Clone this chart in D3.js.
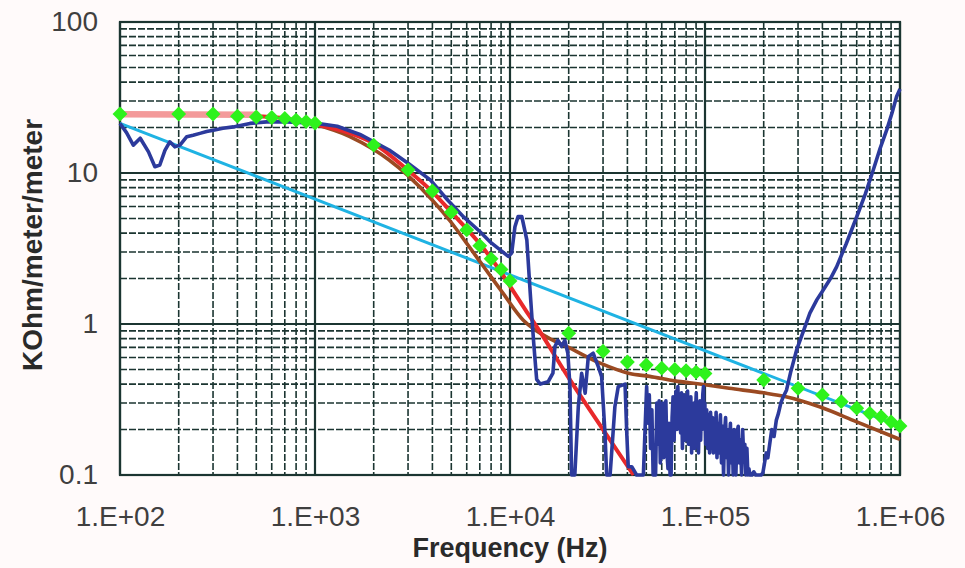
<!DOCTYPE html>
<html>
<head>
<meta charset="utf-8">
<script src="https://cdn.jsdelivr.net/npm/d3@7"></script>
<style>
  html, body { margin: 0; padding: 0; background: #fffafa; }
  svg { display: block; }
  text { font-family: "Liberation Sans", Arial, sans-serif; }
</style>
</head>
<body>
<svg id="chart" width="965" height="568"></svg>
<script>
// ---------------- DATA ----------------
const xTickValues = [1e2, 1e3, 1e4, 1e5, 1e6];
const xTickLabels = ["1.E+02", "1.E+03", "1.E+04", "1.E+05", "1.E+06"];
const yTickValues = [0.1, 1, 10, 100];
const yTickLabels = ["0.1", "1", "10", "100"];

// cyan reference line [Hz, kOhm/m/m]
const cyanLine = [[100, 21.3], [1000000, 0.21]];

// pink low-frequency segment
const pinkLine = [[100, 24.5], [500, 24.3]];

// red model curve
const redLine = [
  [100, 24.5], [200, 24.5], [300, 24.4], [400, 24.2], [500, 23.8], [700, 23.0],
  [1000, 21.0], [1500, 18.4], [2000, 15.7], [3000, 10.4], [4000, 7.5], [5000, 5.5],
  [7000, 3.4], [9000, 2.2], [10000, 1.78], [12000, 1.24], [14000, 0.92],
  [20000, 0.44], [30000, 0.2], [43000, 0.1]
];

// brown model curve
const brownLine = [
  [1000, 21.0], [1500, 17.5], [2000, 14.3], [2400, 12.2], [3000, 9.6], [4000, 6.6],
  [5000, 4.7], [6000, 3.42], [7000, 2.6], [8000, 2.05], [9200, 1.6], [11700, 1.06],
  [13200, 0.93], [16000, 0.8], [19500, 0.71], [29000, 0.55], [41000, 0.47],
  [52000, 0.45], [70000, 0.42], [94000, 0.4], [133000, 0.375], [200000, 0.35],
  [260000, 0.33], [390000, 0.282], [600000, 0.225], [1000000, 0.172]
];

// green diamond points
const greenPoints = [
  [100, 24.6], [200, 24.6], [300, 24.6], [400, 23.8], [500, 23.5], [600, 23.3],
  [700, 23.0], [800, 22.4], [900, 21.9], [1000, 21.4], [2000, 15.3], [3000, 10.5],
  [4000, 7.6], [5000, 5.5], [6000, 4.2], [7000, 3.3], [8000, 2.7], [9000, 2.3],
  [10000, 1.93], [20000, 0.87], [30000, 0.66], [40000, 0.56], [50000, 0.535],
  [60000, 0.51], [70000, 0.5], [80000, 0.49], [90000, 0.48], [100000, 0.47],
  [200000, 0.426], [300000, 0.375], [400000, 0.339], [500000, 0.306], [600000, 0.277],
  [700000, 0.256], [800000, 0.243], [900000, 0.225], [1000000, 0.211]
];

// blue measured curve
const blueLine = [
  [100, 21.3], [108, 18.5], [117, 15.3], [127, 17.0], [140, 13.8], [151, 11.0], [160, 11.3],
  [170, 14.1], [180, 16.1], [191, 14.9], [203, 15.3], [220, 17.4], [237, 17.8], [257, 18.3],
  [278, 18.8], [301, 19.2], [337, 19.8], [381, 20.2], [464, 21.3], [565, 21.8], [716, 21.8],
  [1000, 21.4], [1300, 20.4], [1700, 18.0], [2400, 14.2], [3000, 11.6], [3900, 9.0],
  [4800, 6.6], [5800, 5.1], [7000, 4.1], [7900, 3.5], [8900, 3.1], [9800, 2.8],
  [10200, 2.95], [10600, 4.4], [11000, 5.14], [11500, 5.14], [12200, 3.6], [12700, 1.6],
  [13200, 0.78], [13400, 0.61], [13700, 0.43], [14300, 0.40], [15700, 0.415], [16600, 0.473],
  [17000, 0.71], [17600, 0.78], [18400, 0.71], [19100, 0.78], [19800, 0.64], [20300, 0.385],
  [20700, 0.1], [21500, 0.1], [22400, 0.283], [23300, 0.471], [24300, 0.348], [25200, 0.607],
  [26700, 0.64], [28400, 0.52], [29500, 0.448], [30700, 0.189], [31300, 0.1], [32600, 0.1],
  [34500, 0.283], [35900, 0.385], [38900, 0.40], [39700, 0.189], [40400, 0.1135],
  [42100, 0.1135], [44600, 0.1], [48300, 0.1],
  [50200, 0.385], [51000, 0.22], [51800, 0.34], [52600, 0.15], [53400, 0.27], [54200, 0.1],
  [55000, 0.12], [55800, 0.1], [56600, 0.3], [57400, 0.16], [58200, 0.31], [59000, 0.12],
  [59800, 0.24], [60600, 0.3], [61400, 0.13], [62200, 0.26], [63000, 0.31], [63800, 0.14],
  [64600, 0.11], [65400, 0.22], [66200, 0.1], [67000, 0.1], [67800, 0.24], [68600, 0.33],
  [69400, 0.17], [70200, 0.28], [71000, 0.36], [71800, 0.2], [72600, 0.385], [73400, 0.22],
  [74200, 0.3], [75000, 0.19], [75800, 0.35], [76600, 0.15], [77400, 0.29], [78200, 0.34],
  [79000, 0.17], [79800, 0.31], [80600, 0.22], [81400, 0.36], [82200, 0.16], [83000, 0.27],
  [83800, 0.2], [84600, 0.33], [85400, 0.14], [86200, 0.28], [87000, 0.19], [87800, 0.3],
  [88600, 0.15], [89400, 0.26], [90200, 0.35], [91000, 0.18], [91800, 0.29], [92600, 0.14],
  [93400, 0.24], [94200, 0.31], [95000, 0.17], [95800, 0.27], [96600, 0.2], [97400, 0.34],
  [98200, 0.385], [99000, 0.21], [99800, 0.3], [100800, 0.16], [102000, 0.27], [103200, 0.15],
  [104400, 0.25], [105600, 0.14], [106800, 0.26], [108000, 0.17], [109200, 0.24], [110400, 0.14],
  [111600, 0.23], [112800, 0.15], [114000, 0.26], [115200, 0.13], [116400, 0.22], [117600, 0.14],
  [118800, 0.2], [120000, 0.25], [121500, 0.12], [123000, 0.21], [124500, 0.1], [126000, 0.19],
  [127500, 0.24], [129000, 0.13], [130500, 0.2], [132000, 0.1], [133500, 0.17], [135000, 0.22],
  [136500, 0.12], [138000, 0.18], [139500, 0.1], [141000, 0.2], [142500, 0.14], [144000, 0.1],
  [146000, 0.19], [148000, 0.21], [150000, 0.12], [152000, 0.17], [154000, 0.1], [156000, 0.2],
  [158000, 0.13], [160000, 0.16], [162000, 0.1], [164000, 0.15], [166000, 0.1], [168000, 0.11],
  [170000, 0.1], [174000, 0.1], [178000, 0.105], [182000, 0.1], [186000, 0.1], [190000, 0.1],
  [194000, 0.1], [198000, 0.103], [202000, 0.12], [206000, 0.14], [210000, 0.13],
  [215000, 0.162], [220000, 0.2], [226000, 0.18], [232000, 0.23], [238000, 0.256],
  [245000, 0.3], [252000, 0.33], [262000, 0.366], [275000, 0.48], [295000, 0.673],
  [320000, 0.9], [345000, 1.18], [375000, 1.45], [404000, 1.68], [440000, 2.0],
  [473000, 2.39], [530000, 3.4], [600000, 5.13], [665000, 7.3], [730000, 10.5],
  [790000, 14.5], [855000, 19.3], [910000, 25], [960000, 32], [1000000, 36]
];

// ---------------- CHART ----------------
const svg = d3.select("#chart");
const W = 965, H = 568;
const plot = { left: 120, right: 900, top: 22, bottom: 475 };

const x = d3.scaleLog().domain([1e2, 1e6]).range([plot.left, plot.right]);
const y = d3.scaleLog().domain([0.1, 100]).range([plot.bottom, plot.top]);

svg.append("rect").attr("x", 0).attr("y", 0).attr("width", W).attr("height", H).attr("fill", "#fffafa");
svg.append("rect")
  .attr("x", plot.left).attr("y", plot.top)
  .attr("width", plot.right - plot.left).attr("height", plot.bottom - plot.top)
  .attr("fill", "#ffffff");

const isDecade = v => Math.abs(Math.log10(v) - Math.round(Math.log10(v))) < 1e-9;
const gridColor = "#1b3531";

const grid = svg.append("g");
// vertical grid
x.ticks().forEach(v => {
  const major = isDecade(v);
  grid.append("line")
    .attr("x1", x(v)).attr("x2", x(v))
    .attr("y1", plot.top).attr("y2", plot.bottom)
    .attr("stroke", gridColor)
    .attr("stroke-width", major ? 2.2 : 1.6)
    .attr("stroke-dasharray", major ? null : "7,2");
});
// horizontal grid
y.ticks().forEach(v => {
  const major = isDecade(v);
  grid.append("line")
    .attr("x1", plot.left).attr("x2", plot.right)
    .attr("y1", y(v)).attr("y2", y(v))
    .attr("stroke", gridColor)
    .attr("stroke-width", major ? 2.2 : 1.6)
    .attr("stroke-dasharray", major ? null : "7,2");
});
// frame
svg.append("rect")
  .attr("x", plot.left).attr("y", plot.top)
  .attr("width", plot.right - plot.left).attr("height", plot.bottom - plot.top)
  .attr("fill", "none").attr("stroke", gridColor).attr("stroke-width", 2.2);

// clip for lines
svg.append("clipPath").attr("id", "clip")
  .append("rect")
  .attr("x", plot.left - 2).attr("y", plot.top - 2)
  .attr("width", plot.right - plot.left + 4).attr("height", plot.bottom - plot.top + 6);

const lineG = svg.append("g").attr("clip-path", "url(#clip)");
const lineGen = d3.line().x(d => x(d[0])).y(d => y(d[1]));
const smoothGen = d3.line().x(d => x(d[0])).y(d => y(d[1])).curve(d3.curveMonotoneX);

lineG.append("path").datum(cyanLine).attr("d", lineGen)
  .attr("fill", "none").attr("stroke", "#1fb3e3").attr("stroke-width", 3);
lineG.append("path").datum(brownLine).attr("d", smoothGen)
  .attr("fill", "none").attr("stroke", "#9b4a22").attr("stroke-width", 3.6);
lineG.append("path").datum(redLine).attr("d", smoothGen)
  .attr("fill", "none").attr("stroke", "#e8292b").attr("stroke-width", 4);
lineG.append("path").datum(pinkLine).attr("d", lineGen)
  .attr("fill", "none").attr("stroke", "#f39a9a").attr("stroke-width", 6.5);
lineG.append("path").datum(blueLine).attr("d", lineGen)
  .attr("fill", "none").attr("stroke", "#2c3a9c").attr("stroke-width", 3.6)
  .attr("stroke-linejoin", "round");

// green diamonds
const diamond = d3.symbol().type(d3.symbolSquare).size(110);
svg.append("g").selectAll("path").data(greenPoints).join("path")
  .attr("d", diamond)
  .attr("transform", d => `translate(${x(d[0])},${y(d[1])}) rotate(45)`)
  .attr("fill", "#2ef21c");

// axes
const xAxis = d3.axisBottom(x)
  .tickValues(xTickValues)
  .tickFormat((d, i) => xTickLabels[i])
  .tickSize(0).tickPadding(31);
const gx = svg.append("g").attr("transform", `translate(0,${plot.bottom})`).call(xAxis);
gx.select(".domain").remove();
gx.selectAll("text").attr("font-size", 28).attr("fill", "#3f3f3f")
  .attr("font-family", "'Liberation Sans', Arial, sans-serif");

const yAxis = d3.axisLeft(y)
  .tickValues(yTickValues)
  .tickFormat((d, i) => yTickLabels[i])
  .tickSize(0).tickPadding(22);
const gy = svg.append("g").attr("transform", `translate(${plot.left},0)`).call(yAxis);
gy.select(".domain").remove();
gy.selectAll("text").attr("font-size", 28).attr("fill", "#3f3f3f")
  .attr("font-family", "'Liberation Sans', Arial, sans-serif");

// axis titles
svg.append("text")
  .attr("x", 510).attr("y", 557)
  .attr("text-anchor", "middle")
  .attr("font-size", 27).attr("font-weight", "bold").attr("fill", "#2a2a2a")
  .text("Frequency (Hz)");

svg.append("text")
  .attr("transform", `translate(42,245) rotate(-90)`)
  .attr("text-anchor", "middle")
  .attr("font-size", 28).attr("font-weight", "bold").attr("fill", "#2a2a2a")
  .text("KOhm/meter/meter");
</script>
</body>
</html>
